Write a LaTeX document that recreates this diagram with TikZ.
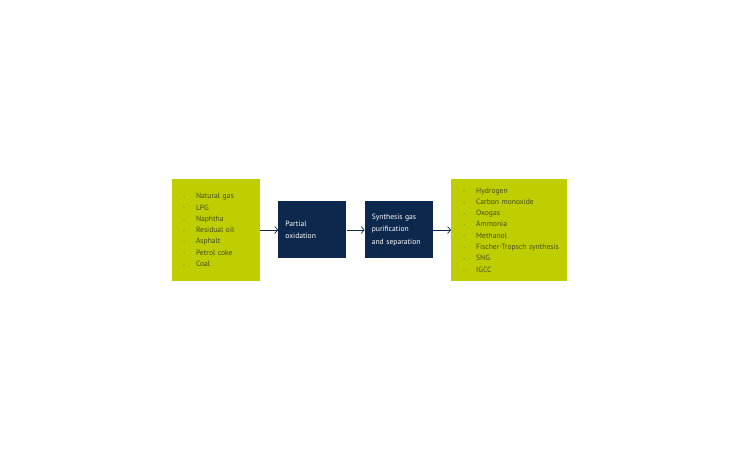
\documentclass[tikz,border=0pt]{standalone}
\usepackage{fontspec}
\setmainfont{PT Sans}
\usepackage{tikz}
\usetikzlibrary{arrows.meta,positioning}
\definecolor{lime}{HTML}{BECE00}
\definecolor{navy}{HTML}{0C284D}
\definecolor{listtext}{HTML}{454D22}
\definecolor{bulletcol}{HTML}{8FA020}
\newcommand{\bul}[1]{\mbox{\makebox[13pt][l]{\textcolor{bulletcol}{\raisebox{0.3pt}{\scalebox{0.6}{\textbullet}}}}#1}}
\tikzset{
    % define standard arrow tip
    >={Straight Barb[length=3pt,width=7pt]},
    % list box on lime
    listbox/.style={
           fill=lime,
           text=listtext,
           align=left,
           inner ysep=0pt,
           minimum height=102pt,
           font=\fontsize{7.6}{11.3}\selectfont},
    % process box
    procbox/.style={
           fill=navy,
           text=white,
           align=left,
           inner xsep=7pt,
           inner ysep=0pt,
           text width=54pt,
           minimum height=57pt,
           font=\fontsize{7.6}{12.5}\selectfont},
    % define arrow style
    pil/.style={
           ->,
           draw=navy,
           line width=0.7pt}
}
\begin{document}
\begin{tikzpicture}[node distance=18pt]
	\useasboundingbox (0,0) rectangle (735pt,460pt);

	% feedstock
	\node[listbox, inner xsep=11pt, text width=66pt] (feed) at (216pt,230pt)
	     {\bul{Natural gas}\\ \bul{LPG}\\ \bul{Naphtha}\\ \bul{Residual oil}\\
	      \bul{Asphalt}\\ \bul{Petrol coke}\\ \bul{Coal}};

	% process steps
	\node[procbox, right=of feed] (pox) {Partial\\ oxidation};
	\node[procbox, right=of pox] (purif) {Synthesis gas\\ purification\\ and separation};

	% products
	\node[listbox, inner xsep=12pt, text width=92pt, right=of purif] (prod)
	     {\bul{Hydrogen}\\ \bul{Carbon monoxide}\\ \bul{Oxogas}\\ \bul{Ammonia}\\
	      \bul{Methanol}\\ \bul{Fischer-Tropsch synthesis}\\ \bul{SNG}\\ \bul{IGCC}};

	\path[pil] (feed) edge (pox)
	           (pox) edge (purif)
	           (purif) edge (prod);

\end{tikzpicture}
\end{document}
